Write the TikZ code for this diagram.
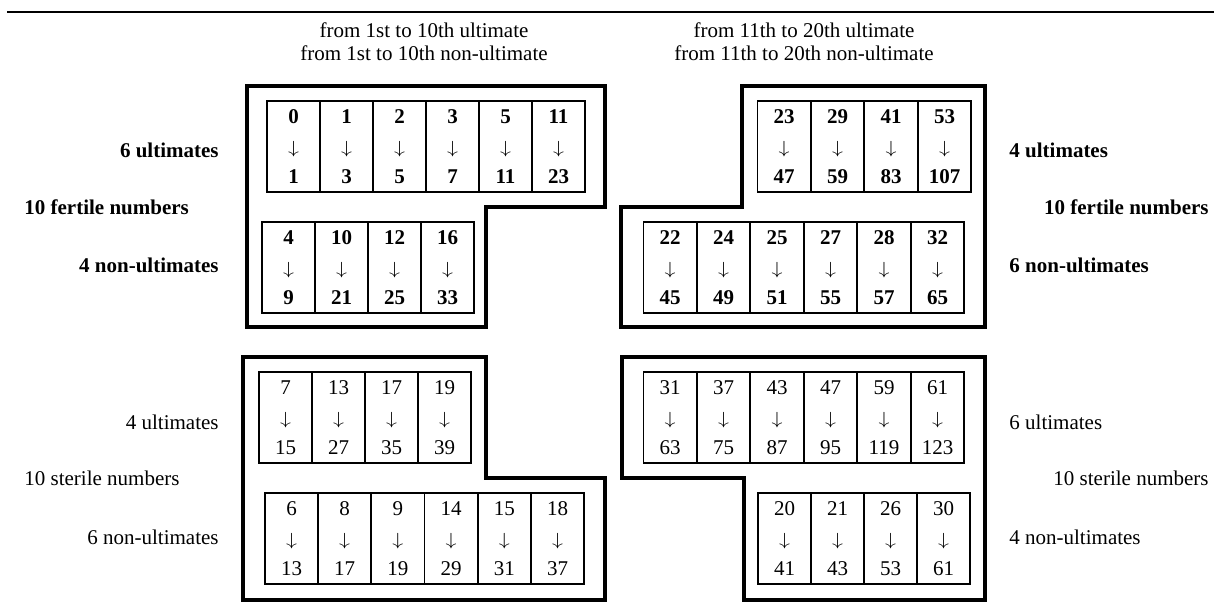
\documentclass[tikz,border=0pt]{standalone}
\usepackage{fontspec}
\setmainfont{Liberation Serif}
\newcommand{\darr}{\scalebox{1}[0.8]{$\downarrow$}}
\begin{document}
\begin{tikzpicture}[x=0.5pt, y=-0.5pt,
  cell/.style={draw, line width=0.8pt, minimum width=26.5pt, minimum height=45.5pt,
    inner sep=0pt, align=center, font=\fontsize{10.5}{15}\selectfont},
  fertile/.style={cell, font=\fontsize{10.5}{15}\selectfont\bfseries},
  lbl/.style={inner sep=0pt, font=\fontsize{10.5}{12}\selectfont},
  blbl/.style={lbl, font=\fontsize{10.5}{12}\selectfont\bfseries},
  frame/.style={line width=1.6pt, line join=miter}]
\useasboundingbox (0,0) rectangle (1214,608);
\draw[line width=1pt] (7,12) -- (1214,12);
% titles
\node[lbl, align=center, font=\fontsize{10.5}{11.5}\selectfont] (t1) at (424,41.5)
    {from 1st to 10th ultimate\\from 1st to 10th non-ultimate};
\node[lbl, align=center, font=\fontsize{10.5}{11.5}\selectfont] (t2) at (804,41.5)
    {from 11th to 20th ultimate\\from 11th to 20th non-ultimate};
% outer frames
\draw[frame] (247,86) -- (605,86) -- (605,207) -- (486,207) -- (486,327) -- (247,327) -- cycle;
\draw[frame] (742,86) -- (985,86) -- (985,327) -- (621,327) -- (621,207) -- (742,207) -- cycle;
\draw[frame] (243,357) -- (486,357) -- (486,478) -- (605,478) -- (605,600) -- (243,600) -- cycle;
\draw[frame] (622,357) -- (985,357) -- (985,600) -- (744,600) -- (744,478) -- (622,478) -- cycle;
% fertile numbers
\foreach \a/\b [count=\i] in {0/1,1/3,2/5,3/7,5/11,11/23}
    \node[fertile] (fu\i) at ({293.5+53*(\i-1)},146.5) {\a\\\darr\\\b};
\foreach \a/\b [count=\i] in {4/9,10/21,12/25,16/33}
    \node[fertile] (fn\i) at ({288.5+53*(\i-1)},267.5) {\a\\\darr\\\b};
\foreach \a/\b [count=\i] in {23/47,29/59,41/83,53/107}
    \node[fertile] (gu\i) at ({784+53.5*(\i-1)},146.5) {\a\\\darr\\\b};
\foreach \a/\b [count=\i] in {22/45,24/49,25/51,27/55,28/57,32/65}
    \node[fertile] (gn\i) at ({670+53.5*(\i-1)},267.5) {\a\\\darr\\\b};
% sterile numbers
\foreach \a/\b [count=\i] in {7/15,13/27,17/35,19/39}
    \node[cell] (su\i) at ({285.5+53*(\i-1)},417.5) {\a\\\darr\\\b};
\foreach \a/\b [count=\i] in {6/13,8/17,9/19,14/29,15/31,18/37}
    \node[cell] (sn\i) at ({291.5+53.2*(\i-1)},538.5) {\a\\\darr\\\b};
\foreach \a/\b [count=\i] in {31/63,37/75,43/87,47/95,59/119,61/123}
    \node[cell] (tu\i) at ({670+53.5*(\i-1)},417.5) {\a\\\darr\\\b};
\foreach \a/\b [count=\i] in {20/41,21/43,26/53,30/61}
    \node[cell] (tn\i) at ({784.5+53*(\i-1)},538.5) {\a\\\darr\\\b};
% side labels
\node[blbl, anchor=east] (lfu) at (219,150) {6 ultimates};
\node[blbl, anchor=west] (lf) at (24,207) {10 fertile numbers};
\node[blbl, anchor=east] (lfn) at (219,265) {4 non-ultimates};
\node[blbl, anchor=west] (rfu) at (1009,150) {4 ultimates};
\node[blbl, anchor=east] (rf) at (1209,207) {10 fertile numbers};
\node[blbl, anchor=west] (rfn) at (1009,265) {6 non-ultimates};
\node[lbl, anchor=east] (lsu) at (219,422) {4 ultimates};
\node[lbl, anchor=west] (ls) at (24,478) {10 sterile numbers};
\node[lbl, anchor=east] (lsn) at (219,537) {6 non-ultimates};
\node[lbl, anchor=west] (rsu) at (1009,422) {6 ultimates};
\node[lbl, anchor=east] (rs) at (1209,478) {10 sterile numbers};
\node[lbl, anchor=west] (rsn) at (1009,537) {4 non-ultimates};
\end{tikzpicture}
\end{document}
